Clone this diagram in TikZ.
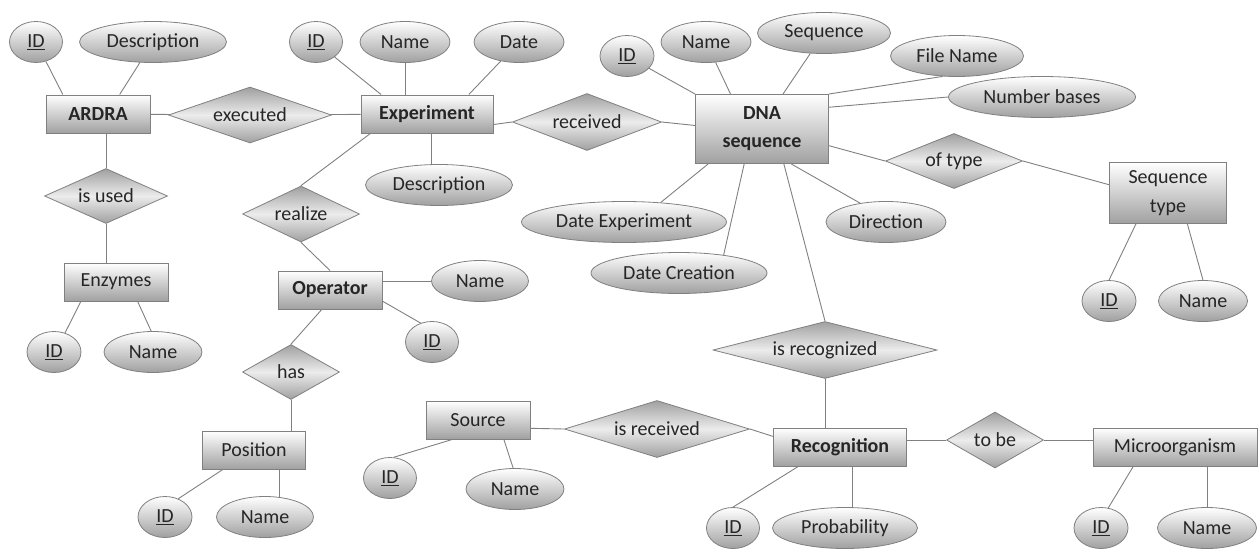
\documentclass[tikz,border=0pt]{standalone}
\usepackage{fontspec}
\setmainfont{Carlito}
\usetikzlibrary{shapes.geometric}
\definecolor{linegray}{RGB}{128,128,128}
\definecolor{textgray}{RGB}{38,38,38}
\definecolor{shadegray}{RGB}{160,160,160}
\begin{document}
\begin{tikzpicture}[x=1pt,y=-1pt,
    every node/.style={font=\fontsize{20}{22}\selectfont, text=textgray, inner sep=0pt},
    entity/.style={rectangle, draw=linegray, line width=1pt, top color=white, bottom color=shadegray, minimum height=38},
    keyent/.style={entity, font=\fontsize{20}{28}\selectfont\bfseries},
    attrib/.style={ellipse, draw=linegray, line width=0.8pt, top color=white, bottom color=shadegray, minimum height=41},
    relation/.style={diamond, aspect=3, draw=linegray, line width=0.8pt, top color=shadegray, bottom color=shadegray, middle color=gray!15, minimum height=56},
    link/.style={draw=linegray, line width=0.9pt}]
\useasboundingbox (0,0) rectangle (1258,549);

% entities
\node[keyent, minimum width=104] (ardra) at (98,114) {ARDRA};
\node[keyent, minimum width=132] (experiment) at (427,114) {Experiment};
\node[keyent, minimum width=133, minimum height=69, align=center] (dna) at (762,129) {DNA\\sequence};
\node[entity, minimum width=117, minimum height=61, align=center, font=\fontsize{20}{29}\selectfont] (seqType) at (1168,193) {Sequence\\type};
\node[entity, minimum width=104] (enzymes) at (116,282) {Enzymes};
\node[keyent, minimum width=104] (operator) at (330,290) {Operator};
\node[entity, minimum width=103] (position) at (254,450) {Position};
\node[entity, minimum width=104] (source) at (478,420) {Source};
\node[keyent, minimum width=133] (recognition) at (840,447) {Recognition};
\node[entity, minimum width=164] (micro) at (1175,447) {Microorganism};

% attributes
\node[attrib, minimum width=53] (ardraId) at (36,42) {\underline{ID}};
\node[attrib, minimum width=147] (ardraDesc) at (153,42) {Description};
\node[attrib, minimum width=53] (expId) at (316,42) {\underline{ID}};
\node[attrib, minimum width=90] (expName) at (405,42) {Name};
\node[attrib, minimum width=90] (expDate) at (519,42) {Date};
\node[attrib, minimum width=147] (expDesc) at (439,185) {Description};
\node[attrib, minimum width=54] (dnaId) at (627,56) {\underline{ID}};
\node[attrib, minimum width=90] (dnaName) at (706,42) {Name};
\node[attrib, minimum width=133] (dnaSeq) at (824,33) {Sequence};
\node[attrib, minimum width=133] (dnaFile) at (957,56) {File Name};
\node[attrib, minimum width=187] (dnaBases) at (1042,97) {Number bases};
\node[attrib, minimum width=205] (dateExp) at (624,222) {Date Experiment};
\node[attrib, minimum width=176] (dateCre) at (679,273) {Date Creation};
\node[attrib, minimum width=120] (direction) at (886,222) {Direction};
\node[attrib, minimum width=54] (seqTypeId) at (1109,301) {\underline{ID}};
\node[attrib, minimum width=89] (seqTypeName) at (1203,301) {Name};
\node[attrib, minimum width=54] (enzId) at (54,352) {\underline{ID}};
\node[attrib, minimum width=98] (enzName) at (153,352) {Name};
\node[attrib, minimum width=97] (opName) at (480,281) {Name};
\node[attrib, minimum width=53] (opId) at (432,342) {\underline{ID}};
\node[attrib, minimum width=54] (posId) at (165,517) {\underline{ID}};
\node[attrib, minimum width=97] (posName) at (265,517) {Name};
\node[attrib, minimum width=53] (srcId) at (390,478) {\underline{ID}};
\node[attrib, minimum width=98] (srcName) at (515,489) {Name};
\node[attrib, minimum width=53] (recId) at (733,528) {\underline{ID}};
\node[attrib, minimum width=145] (recProb) at (845,528) {Probability};
\node[attrib, minimum width=54] (microId) at (1101,528) {\underline{ID}};
\node[attrib, minimum width=99] (microName) at (1207,528) {Name};

% relationships
\node[relation, minimum width=163] (executed) at (250,115) {executed};
\node[relation, minimum width=149, minimum height=57] (received) at (587,122) {received};
\node[relation, minimum width=137, minimum height=55] (ofType) at (954,161) {of type};
\node[relation, minimum width=123, minimum height=55] (isUsed) at (106,196) {is used};
\node[relation, minimum width=117] (realize) at (301,214) {realize};
\node[relation, minimum width=97, minimum height=55] (has) at (291,372) {has};
\node[relation, minimum width=224, minimum height=57] (isRec) at (825,350) {is recognized};
\node[relation, minimum width=185, minimum height=57] (isReceived) at (657,429) {is received};
\node[relation, minimum width=97] (toBe) at (995,440) {to be};

% links
\draw[link] (ardraId) -- (ardra.151);
\draw[link] (ardraDesc) -- (ardra.42);
\draw[link] (ardra) -- (executed);
\draw[link] (executed) -- (experiment);
\draw[link] (isUsed.north) -- (isUsed.north |- ardra.south);
\draw[link] (isUsed.south) -- (isUsed.south |- enzymes.north);
\draw[link] (enzymes.209) -- (enzId.60);
\draw[link] (enzymes.-42) -- (enzName.95);
\draw[link] (expId) -- (experiment.157);
\draw[link] (expName.south) -- (expName.south |- experiment.north);
\draw[link] (expDate) -- (experiment.25);
\draw[link] (expDesc.109) -- (expDesc.109 |- experiment.south);
\draw[link] (experiment.199) -- (realize.north);
\draw[link] (experiment.-9) -- (received.west);
\draw[link] (received.east) -- (dna.177);
\draw[link] (realize.south) -- (operator.north);
\draw[link] (opName.west) -- (opName.west -| operator.east);
\draw[link] (operator.-12) -- (opId.121);
\draw[link] (operator.247) -- (has.north);
\draw[link] (has.south) -- (has.south |- position.north);
\draw[link] (position.212) -- (posId.54);
\draw[link] (posName.55) -- (posName.55 |- position.south);
\draw[link] (dnaId) -- (dna.north west);
\draw[link] (dnaName) -- (dna.132);
\draw[link] (dnaSeq) -- (dna.59);
\draw[link] (dna.north east) -- (dnaFile.235);
\draw[link] (dna.18) -- (dnaBases.west);
\draw[link] (dna.-14) -- (ofType.west);
\draw[link] (ofType.east) -- (seqType.172);
\draw[link] (seqType.224) -- (seqTypeId.north);
\draw[link] (seqType.-58) -- (seqTypeName.north);
\draw[link] (dna.213) -- (dateExp.28);
\draw[link] (dna.243) -- (dateCre.22);
\draw[link] (dna.-50) -- (direction.144);
\draw[link] (dna.-58) -- (isRec.north);
\draw[link] (isRec.south) -- (isRec.south |- recognition.north);
\draw[link] (source.-9) -- (isReceived.west);
\draw[link] (isReceived.east) -- (recognition.171);
\draw[link] (source.217) -- (srcId.80);
\draw[link] (source.-37) -- (srcName.95);
\draw[link] (recognition.205) -- (recId.north);
\draw[link] (recProb.70) -- (recProb.70 |- recognition.south);
\draw[link] (toBe.west) -- (toBe.west -| recognition.east);
\draw[link] (toBe.east) -- (toBe.east -| micro.west);
\draw[link] (micro.205) -- (microId.70);
\draw[link] (microName.north) -- (microName.north |- micro.south);
\end{tikzpicture}
\end{document}
